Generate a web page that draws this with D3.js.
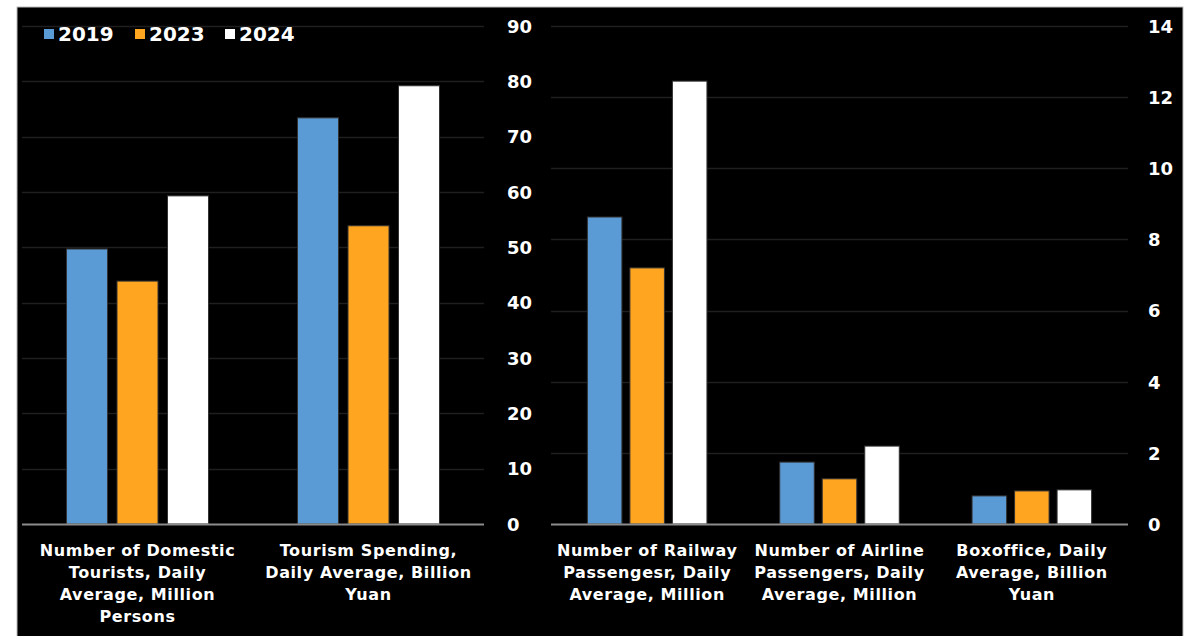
<!DOCTYPE html>
<html>
<head>
<meta charset="utf-8">
<script src="https://cdn.jsdelivr.net/npm/d3@7"></script>
<style>
  html, body { margin: 0; padding: 0; background: #fff; }
  svg { display: block; }
  text { font-family: "DejaVu Sans", Verdana, sans-serif; font-weight: bold; fill: #fff; }
</style>
</head>
<body>
<svg id="chart" width="1196" height="636"></svg>
<script>
// Series years
const years = ["2019", "2023", "2024"];
const colors = ["#5b9bd5", "#ffa51f", "#ffffff"];

// Left panel: tourism figures (axis 0–90)
const leftCategories = [
  ["Number of Domestic", "Tourists, Daily", "Average, Million", "Persons"],
  ["Tourism Spending,", "Daily Average, Billion", "Yuan"]
];
const left2019 = [49.7, 73.4];
const left2023 = [43.9, 53.9];
const left2024 = [59.3, 79.2];
const leftTicks = [0, 10, 20, 30, 40, 50, 60, 70, 80, 90];

// Right panel: transport and box office (axis 0–14)
const rightCategories = [
  ["Number of Railway", "Passengesr, Daily", "Average, Million"],
  ["Number of Airline", "Passengers, Daily", "Average, Million"],
  ["Boxoffice, Daily", "Average, Billion", "Yuan"]
];
const right2019 = [8.63, 1.74, 0.79];
const right2023 = [7.20, 1.27, 0.93];
const right2024 = [12.45, 2.19, 0.96];
const rightTicks = [0, 2, 4, 6, 8, 10, 12, 14];

const svg = d3.select("#chart");

// dark canvas
svg.append("rect")
  .attr("x", 17).attr("y", 7).attr("width", 1166).attr("height", 640)
  .attr("fill", "#000").attr("stroke", "#bbb").attr("stroke-width", 1);

const yTop = 26, yBase = 524;

function panel(cfg) {
  const { x0, x1, max, ticks, cats, series, labelX, po } = cfg;
  const g = svg.append("g");
  const y = d3.scaleLinear().domain([0, max]).range([yBase, yTop]);
  const xb = d3.scaleBand().domain(d3.range(cats.length)).range([x0, x1]).padding(0);
  const xs = d3.scaleBand().domain(years).range([0, xb.bandwidth()])
    .paddingInner(0.188).paddingOuter(po);

  // gridlines
  g.selectAll("line.grid").data(ticks.filter(t => t > 0)).join("line")
    .attr("x1", x0).attr("x2", x1)
    .attr("y1", d => Math.round(y(d)) + 0.5).attr("y2", d => Math.round(y(d)) + 0.5)
    .attr("stroke", "#1f1f1f").attr("stroke-width", 1.5);

  // bars
  years.forEach((yr, si) => {
    g.selectAll("rect.s" + si).data(series[si]).join("rect")
      .attr("x", (d, i) => xb(i) + xs(yr))
      .attr("y", d => y(d))
      .attr("width", xs.bandwidth())
      .attr("height", d => y(0) - y(d))
      .attr("fill", colors[si])
      .attr("stroke", "#333").attr("stroke-width", 1);
  });

  // baseline
  g.append("line")
    .attr("x1", x0).attr("x2", x1)
    .attr("y1", yBase + 0.5).attr("y2", yBase + 0.5)
    .attr("stroke", "#8c8c8c").attr("stroke-width", 2);

  // value axis labels
  const axis = d3.axisRight(y).tickValues(ticks).tickSize(0).tickPadding(0);
  const ag = g.append("g").attr("transform", `translate(${labelX},0)`).call(axis);
  ag.select(".domain").remove();
  ag.selectAll("text")
    .attr("fill", "#fff")
    .style("font-size", "18px")
    .style("font-family", "'DejaVu Sans', Verdana, sans-serif")
    .style("font-weight", "bold")
    .attr("dy", "0.35em");

  // category labels
  cats.forEach((lines, i) => {
    const t = g.append("text")
      .attr("x", xb(i) + xb.bandwidth() / 2)
      .attr("y", 556)
      .attr("text-anchor", "middle")
      .style("font-size", "16px")
      .style("letter-spacing", "0.6px");
    lines.forEach((ln, k) => {
      t.append("tspan")
        .attr("x", xb(i) + xb.bandwidth() / 2)
        .attr("dy", k === 0 ? 0 : 22)
        .text(ln);
    });
  });
}

panel({
  x0: 22, x1: 484, max: 90, ticks: leftTicks, cats: leftCategories,
  series: [left2019, left2023, left2024], labelX: 507, po: 0.881
});

panel({
  x0: 551, x1: 1128, max: 14, ticks: rightTicks, cats: rightCategories,
  series: [right2019, right2023, right2024], labelX: 1148, po: 0.856
});

// legend
const legend = svg.append("g");
const legendX = [44, 135, 225];
years.forEach((yr, i) => {
  legend.append("rect")
    .attr("x", legendX[i]).attr("y", 29)
    .attr("width", 10).attr("height", 10)
    .attr("fill", colors[i]);
  legend.append("text")
    .attr("x", legendX[i] + 14).attr("y", 41)
    .style("font-size", "20px")
    .text(yr);
});
</script>
</body>
</html>
